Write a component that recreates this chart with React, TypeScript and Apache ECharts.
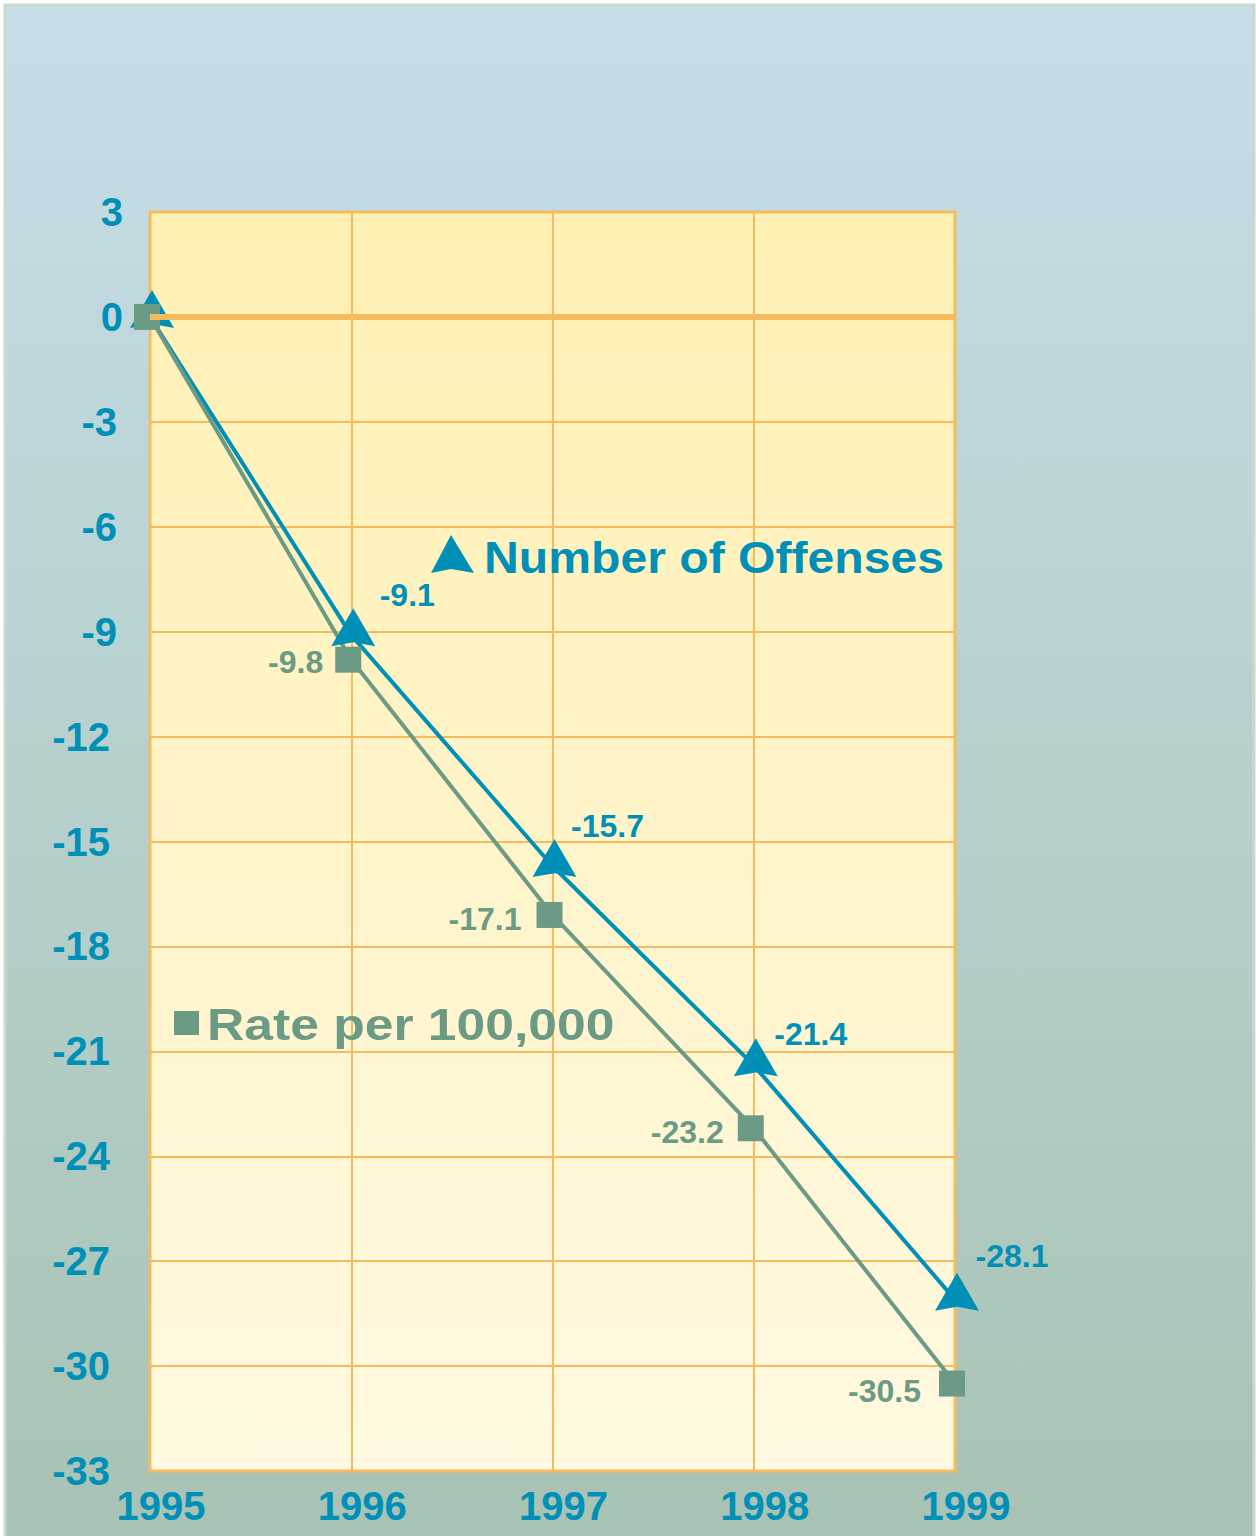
import React, { useEffect, useRef } from 'react';
import * as echarts from 'echarts';

const years = ['1995', '1996', '1997', '1998', '1999'];
const offenses = [0, -9.1, -15.7, -21.4, -28.1];
const ratePer100k = [0, -9.8, -17.1, -23.2, -30.5];
const yMin = -33;
const yMax = 3;
const yStep = 3;
const offenseLabelDx = [54, 54, 53, 55, 55];
const offenseLabelDy = [0, -32, -32, -23, -36];
const rateLabelDx = [0, 0, -3, -2, -6];
const rateLabelDy = [0, 2, 4, 4, 7];

const BLUE = '#0090b7';
const GREEN = '#6b9a85';
const ORANGE = '#f6bb5e';
const FONT = '"Liberation Sans", Arial, sans-serif';
const DART = 'path://M50,0 L100,100 L50,90 L0,100 Z';

export default function App() {
  const ref = useRef<HTMLDivElement>(null);
  useEffect(() => {
    if (!ref.current) return;
    const chart = echarts.init(ref.current, undefined, { renderer: 'svg' });
    chart.setOption({
      animation: false,
      graphic: [
        {
          type: 'rect',
          z: -100,
          silent: true,
          shape: { x: 5, y: 5, width: 1249, height: 1535 },
          style: {
            fill: new echarts.graphic.LinearGradient(0, 0, 0, 1, [
              { offset: 0, color: '#c6dee8' },
              { offset: 1, color: '#a8c3b4' },
            ]),
            stroke: '#cbd9cc',
            lineWidth: 3,
          },
        },
        {
          type: 'polygon',
          z: 100,
          shape: { points: [[451, 535], [474, 573], [451, 569], [431, 573]] },
          style: { fill: BLUE },
        },
        {
          type: 'text',
          z: 100,
          x: 484,
          y: 558,
          scaleX: 1.07,
          style: {
            text: 'Number of Offenses',
            fill: BLUE,
            font: `bold 45px ${FONT}`,
            verticalAlign: 'middle',
            align: 'left',
          },
        },
        {
          type: 'rect',
          z: 100,
          shape: { x: 174, y: 1011, width: 25, height: 24 },
          style: { fill: GREEN },
        },
        {
          type: 'text',
          z: 100,
          x: 207,
          y: 1024,
          scaleX: 1.147,
          style: {
            text: 'Rate per 100,000',
            fill: GREEN,
            font: `bold 45px ${FONT}`,
            verticalAlign: 'middle',
            align: 'left',
          },
        },
      ],
      grid: {
        left: 150,
        top: 212,
        width: 805,
        height: 1259,
        show: true,
        borderColor: ORANGE,
        borderWidth: 3,
        backgroundColor: new echarts.graphic.LinearGradient(0, 0, 0, 1, [
          { offset: 0, color: '#fff0b3' },
          { offset: 1, color: '#fff9e1' },
        ]),
      },
      xAxis: {
        type: 'category',
        data: years,
        boundaryGap: false,
        axisLine: { show: false },
        axisTick: { show: false },
        splitLine: { show: true, lineStyle: { color: ORANGE, width: 2 } },
        axisLabel: {
          color: BLUE,
          fontFamily: FONT,
          fontWeight: 'bold',
          fontSize: 40,
          margin: 15,
          padding: [0, 0, 0, 22],
        },
      },
      yAxis: {
        type: 'value',
        min: yMin,
        max: yMax,
        interval: yStep,
        axisLine: { show: false },
        axisTick: { show: false },
        splitLine: { show: true, lineStyle: { color: ORANGE, width: 2 } },
        axisLabel: {
          color: BLUE,
          fontFamily: FONT,
          fontWeight: 'bold',
          fontSize: 40,
          margin: 27,
          formatter: (v: number) => {
            const s = String(v);
            if (s.length >= 3) return `{c|${s}}`;
            if (s.length === 2) return `{b|${s}}`;
            return `{a|${s}}`;
          },
          rich: {
            a: { color: BLUE, fontFamily: FONT, fontWeight: 'bold', fontSize: 40 },
            b: { color: BLUE, fontFamily: FONT, fontWeight: 'bold', fontSize: 40, padding: [0, 6, 0, 0] },
            c: { color: BLUE, fontFamily: FONT, fontWeight: 'bold', fontSize: 40, padding: [0, 13, 0, 0] },
          },
        },
      },
      series: [
        {
          type: 'line',
          name: 'Zero',
          data: [],
          markLine: {
            silent: true,
            symbol: 'none',
            label: { show: false },
            lineStyle: { color: ORANGE, width: 6, type: 'solid' },
            data: [{ yAxis: 0 }],
          },
        },
        {
          type: 'line',
          name: 'Number of Offenses',
          data: offenses.map((v, i) => ({
            value: v,
            label: { offset: [offenseLabelDx[i], offenseLabelDy[i]] },
          })),
          color: BLUE,
          lineStyle: { color: BLUE, width: 4 },
          symbol: DART,
          symbolSize: [44, 38],
          symbolOffset: [2, -8],
          itemStyle: { color: BLUE },
          label: {
            show: true,
            position: 'inside',
            color: BLUE,
            fontFamily: FONT,
            fontWeight: 'bold',
            fontSize: 32,
            formatter: (p: any) => (p.dataIndex === 0 ? '' : String(p.value)),
          },
        },
        {
          type: 'line',
          name: 'Rate per 100,000',
          data: ratePer100k.map((v, i) => ({
            value: v,
            label: { offset: [rateLabelDx[i], rateLabelDy[i]] },
          })),
          color: GREEN,
          lineStyle: { color: GREEN, width: 4 },
          symbol: 'rect',
          symbolSize: 26,
          symbolOffset: [-3, 0],
          itemStyle: { color: GREEN },
          label: {
            show: true,
            position: 'left',
            distance: 12,
            color: GREEN,
            fontFamily: FONT,
            fontWeight: 'bold',
            fontSize: 32,
            formatter: (p: any) => (p.dataIndex === 0 ? '' : String(p.value)),
          },
        },
      ],
    });
    return () => chart.dispose();
  }, []);
  return (
    <div
      ref={ref}
      style={{ position: 'absolute', left: 0, top: 0, width: 1256, height: 1536 }}
    />
  );
}
